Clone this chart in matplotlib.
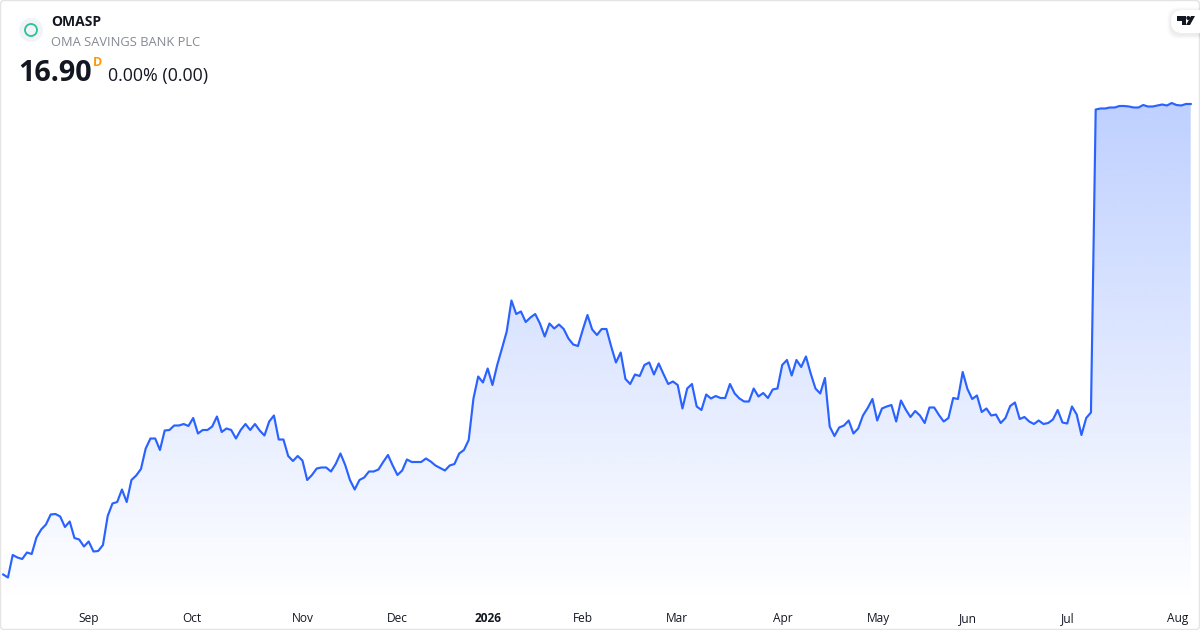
import numpy as np
import matplotlib
matplotlib.use("Agg")
import matplotlib.pyplot as plt
from matplotlib.patches import Circle, FancyBboxPatch, Polygon

plt.rcParams['font.family'] = ['Open Sans', 'DejaVu Sans']

symbol = "OMASP"
company = "OMA SAVINGS BANK PLC"
last_price = "16.90"
change_text = "0.00% (0.00)"

prices = [
    7.49, 7.43, 7.88, 7.83, 7.80, 7.93, 7.90, 8.23, 8.39, 8.49, 8.69, 8.70, 8.65, 8.44, 8.55,
    8.22, 8.19, 8.05, 8.15, 7.95, 7.96, 8.08, 8.66, 8.91, 8.94, 9.19, 8.94, 9.38, 9.47, 9.60,
    10.01, 10.21, 10.21, 9.98, 10.37, 10.38, 10.47, 10.47, 10.50, 10.46, 10.62, 10.31, 10.38,
    10.38, 10.45, 10.65, 10.34, 10.41, 10.38, 10.21, 10.38, 10.50, 10.38, 10.50, 10.37, 10.27,
    10.55, 10.67, 10.19, 10.19, 9.86, 9.76, 9.86, 9.77, 9.38, 9.48, 9.61, 9.63, 9.63, 9.55,
    9.70, 9.91, 9.68, 9.38, 9.19, 9.38, 9.43, 9.55, 9.55, 9.59, 9.74, 9.88, 9.67, 9.48, 9.57,
    9.79, 9.74, 9.74, 9.74, 9.81, 9.75, 9.67, 9.62, 9.57, 9.67, 9.70, 9.91, 9.98, 10.18,
    11.01, 11.45, 11.33, 11.61, 11.28, 11.68, 12.01, 12.35, 12.97, 12.70, 12.75, 12.54, 12.63,
    12.70, 12.51, 12.25, 12.51, 12.41, 12.49, 12.40, 12.21, 12.09, 12.06, 12.38, 12.68, 12.39,
    12.28, 12.40, 12.40, 12.05, 11.73, 11.93, 11.40, 11.30, 11.49, 11.46, 11.68, 11.73, 11.49,
    11.71, 11.50, 11.30, 11.35, 11.28, 10.81, 11.21, 11.30, 10.85, 10.78, 11.09, 11.01, 11.06,
    11.02, 11.02, 11.30, 11.11, 11.01, 10.95, 10.95, 11.21, 11.05, 11.12, 11.02, 11.19, 11.21,
    11.68, 11.78, 11.47, 11.78, 11.64, 11.85, 11.51, 11.21, 11.11, 11.42, 10.45, 10.26, 10.43,
    10.47, 10.57, 10.31, 10.41, 10.67, 10.82, 11.00, 10.57, 10.81, 10.85, 10.88, 10.55, 10.97,
    10.79, 10.64, 10.76, 10.67, 10.52, 10.83, 10.83, 10.68, 10.55, 10.62, 11.02, 11.00, 11.54,
    11.20, 11.00, 11.07, 10.74, 10.81, 10.67, 10.69, 10.52, 10.62, 10.86, 10.93, 10.60, 10.64,
    10.55, 10.50, 10.57, 10.50, 10.52, 10.59, 10.78, 10.53, 10.51, 10.85, 10.69, 10.28, 10.62,
    10.73, 16.79, 16.81, 16.81, 16.83, 16.83, 16.86, 16.86, 16.85, 16.83, 16.83, 16.88, 16.85,
    16.85, 16.87, 16.89, 16.87, 16.92, 16.88, 16.87, 16.90, 16.90,
]

tick_labels = ["Sep", "Oct", "Nov", "Dec", "2026", "Feb", "Mar", "Apr", "May", "Jun", "Jul", "Aug"]
tick_bars = [17.9, 39.7, 63, 82.9, 102, 122.1, 141.9, 164.2, 184.2, 203.2, 224.1, 247.2]

W, H = 1200, 630

fig = plt.figure(figsize=(W / 100, H / 100), dpi=100, facecolor="white")
ax = fig.add_axes([0, 0, 1, 1])
x = np.arange(len(prices))
step = (1190.7 - 3.2) / (len(prices) - 1)
xlim = (-3.2 / step, (W - 3.2) / step)
ylim = (6.38, 18.98)
ax.axis("off")

# area under the line, gradient clipped to the polygon
floor = 18.98 - 603 * 0.02
area = ax.fill_between(x, prices, floor, color="none", lw=0)
top_val = max(prices)
rows = 256
grad = np.zeros((rows, 1, 4))
grad[..., 0] = 41 / 255
grad[..., 1] = 98 / 255
grad[..., 2] = 1.0
grad[..., 3] = np.linspace(0.30, 0.0, rows)[:, None]
im = ax.imshow(grad, extent=[x[0], x[-1], floor, top_val], aspect="auto", origin="upper", zorder=1)
im.set_clip_path(area.get_paths()[0], transform=ax.transData)
ax.set_xlim(*xlim)
ax.set_ylim(*ylim)

ax.plot(x, prices, color="#2962FF", lw=1.55, zorder=2, solid_joinstyle="round")

# time axis labels
for pos, lab in zip(tick_bars, tick_labels):
    ax.text(pos, 18.98 - 618.5 * 0.02, lab, ha="center", va="center", fontsize=8.6, color="#131722",
            fontweight="bold" if lab == "2026" else "normal")

# overlay in pixel coordinates for header, logo and border
ov = fig.add_axes([0, 0, 1, 1], facecolor="none")
ov.set_xlim(0, W)
ov.set_ylim(H, 0)
ov.axis("off")

ov.add_patch(FancyBboxPatch((0.5, 0.5), W - 1, H - 1, boxstyle="round,pad=0,rounding_size=4",
                            fc="none", ec="#e4e4e4", lw=1))

ov.add_patch(Circle((31, 30), 12, fc="#f0f3fa", ec="none"))
ov.add_patch(Circle((31, 30), 6, fc="none", ec="#2bc48a", lw=1.3))

ov.text(51, 22.5, symbol, fontsize=10, fontweight="bold", color="#131722", va="center", ha="left")
ov.text(51, 42.5, company, fontsize=9.3, color="#868993", va="center", ha="left")
ov.text(18.5, 73.5, last_price, fontsize=20.7, fontweight="bold", color="#131722", va="center", ha="left")
ov.text(93, 62, "D", fontsize=9, fontweight="bold", color="#ff9800", va="center", ha="left")
ov.text(108, 76, change_text, fontsize=12.9, color="#131722", va="center", ha="left")

# logo pill, soft shadow sits a little below it
for grow, al in [(4, 0.012), (3, 0.015), (2, 0.02), (1, 0.025)]:
    ov.add_patch(FancyBboxPatch((1171 - grow, 11 - grow), 50 + grow, 24 + 2 * grow,
                                boxstyle="round,pad=0,rounding_size=11", fc="black", ec="none", alpha=al))
ov.add_patch(FancyBboxPatch((1171, 10), 50, 23, boxstyle="round,pad=0,rounding_size=11", fc="white", ec="none"))
ov.add_patch(Polygon([(1177, 16), (1186, 16), (1186, 25), (1182, 25), (1182, 20.5), (1177, 20.5)],
                     fc="#131722", ec="none"))
ov.add_patch(Circle((1188.3, 18), 2, fc="#131722", ec="none"))
ov.add_patch(Polygon([(1191, 16), (1195, 16), (1190, 25), (1186, 25)], fc="#131722", ec="none"))

fig.savefig("out.png", dpi=100)
